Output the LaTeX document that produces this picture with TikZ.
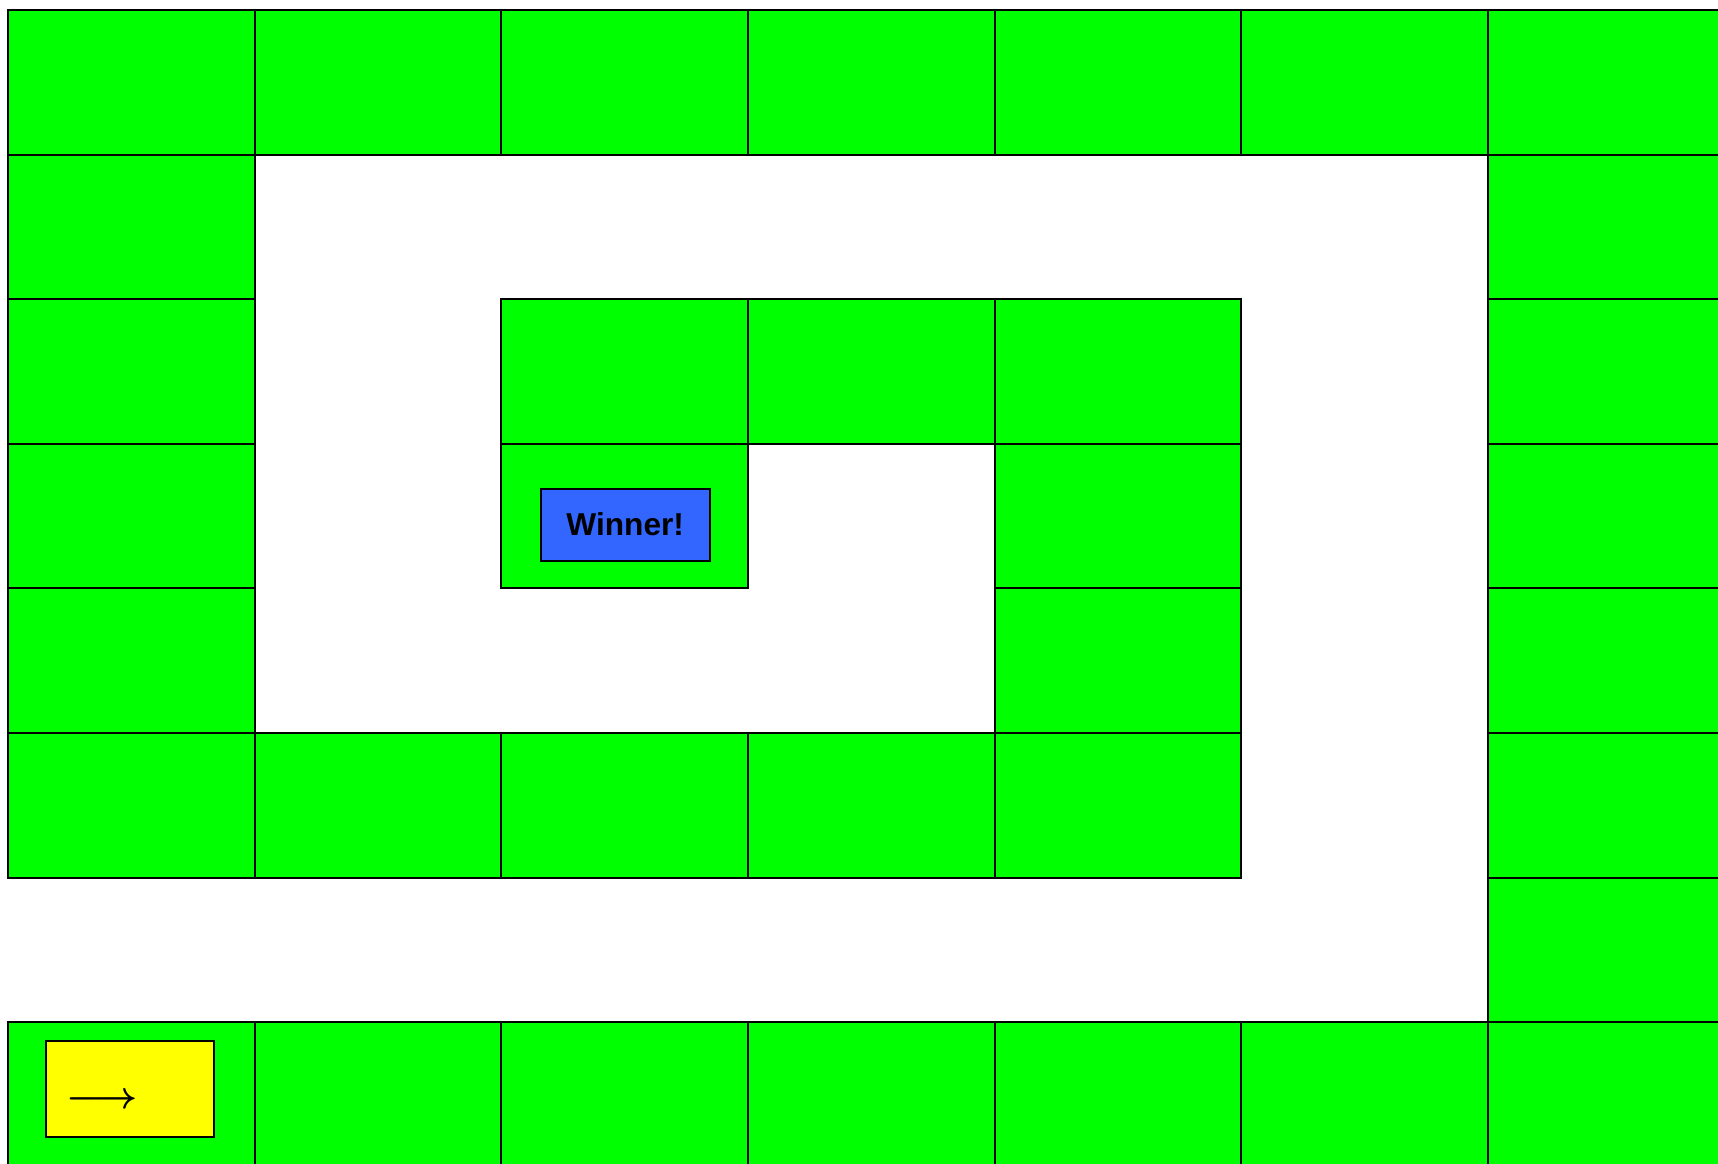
\documentclass[tikz,border=0pt]{standalone}
\usepackage{fontspec}
\setmainfont{Liberation Sans}
\usetikzlibrary{positioning}
\definecolor{boardGreen}{RGB}{0,255,0}
\definecolor{winBlue}{RGB}{51,102,255}
\definecolor{startYellow}{RGB}{255,255,0}

\begin{document}
\begin{tikzpicture}[x=2.4667cm,y=-1.446cm,
  cell/.style={fill=boardGreen,draw=black,line width=0.6pt},
  tag/.style={draw=black,line width=0.6pt,inner sep=0pt}]
  \useasboundingbox (-0.0324,-0.0692) rectangle (6.9323,7.9737);
  % outer track
  \foreach \c in {0,...,6} {
    \filldraw[cell] (\c,0) rectangle +(1,1);
    \filldraw[cell] (\c,7) rectangle +(1,1);
  }
  \foreach \r in {1,...,6} \filldraw[cell] (6,\r) rectangle +(1,1);
  \foreach \r in {1,...,4} \filldraw[cell] (0,\r) rectangle +(1,1);
  % inner track
  \foreach \c in {0,...,4} \filldraw[cell] (\c,5) rectangle +(1,1);
  \foreach \r in {2,3,4} \filldraw[cell] (4,\r) rectangle +(1,1);
  \foreach \c in {2,3} \filldraw[cell] (\c,2) rectangle +(1,1);
  \filldraw[cell] (2,3) rectangle +(1,1);
  % start and goal
  \node[tag,fill=startYellow,minimum width=1.68cm,minimum height=0.96cm] (start) at (0.4946,7.460) {};
  \node[font=\fontsize{11}{13}\selectfont\mathversion{bold}] (arrow) at (0.380,7.545) {$\longrightarrow$};
  \node[tag,fill=winBlue,minimum width=1.69cm,minimum height=0.72cm,font=\bfseries\fontsize{9}{11}\selectfont] (goal) at (2.502,3.559) {Winner!};
\end{tikzpicture}
\end{document}
